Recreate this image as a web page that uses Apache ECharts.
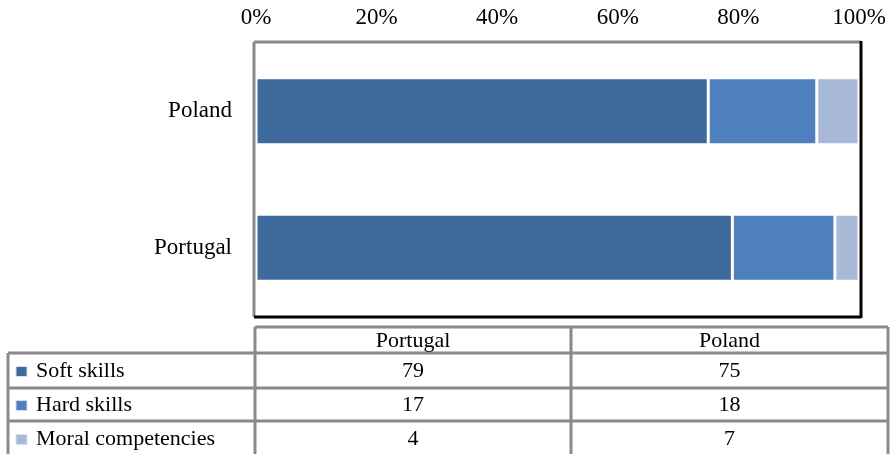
<!DOCTYPE html>
<html>
<head>
<meta charset="utf-8">
<script src="https://cdn.jsdelivr.net/npm/echarts@6/dist/echarts.min.js"></script>
<style>
html, body { margin: 0; padding: 0; background: #fff; }
#chart { width: 895px; height: 454px; }
</style>
</head>
<body>
<div id="chart"></div>
<script>
// table order: Portugal, Poland (axis draws first category at bottom)
var countries = ['Portugal', 'Poland']
var seriesNames = ['Soft skills', 'Hard skills', 'Moral competencies']
var softSkills = [79, 75]
var hardSkills = [17, 18]
var moralComp = [4, 7]
var colors = ['#3F6A9C', '#4D80BC', '#A9B9D8']

var seriesData = [softSkills, hardSkills, moralComp]
var font = '"Liberation Serif", "Times New Roman", serif'
var chart = echarts.init(document.querySelector('#chart'))

var gridLeft = 256, gridTop = 43, gridW = 603, gridH = 273

// data table underneath the plot
var lineColor = '#8a8a8a'
var colX = [8, 255, 571, 888]
var rowY = [327, 353, 388, 421, 456]
var graphics = []

function hline(x1, x2, y, color) {
    graphics.push({ type: 'line', shape: { x1: x1, y1: y, x2: x2, y2: y }, style: { stroke: color || lineColor, lineWidth: 3 } })
}
function vline(x, y1, y2, color) {
    graphics.push({ type: 'line', shape: { x1: x, y1: y1, x2: x, y2: y2 }, style: { stroke: color || lineColor, lineWidth: 3 } })
}
function text(str, x, y, align) {
    graphics.push({
        type: 'text', x: x, y: y,
        style: { text: str, font: '22px ' + font, fill: '#000', align: align || 'center', verticalAlign: 'middle' }
    })
}

// plot border: gray top/left, black bottom/right
hline(gridLeft - 2, gridLeft + gridW + 2, gridTop - 1)
vline(gridLeft - 2, gridTop - 1, gridTop + gridH + 1)
hline(gridLeft - 2, gridLeft + gridW + 2, gridTop + gridH + 1, '#000')
vline(gridLeft + gridW + 2, gridTop - 2, gridTop + gridH + 2, '#000')

hline(colX[1], colX[3], rowY[0])
for (var r = 1; r < rowY.length; r++) hline(colX[0], colX[3], rowY[r])
vline(colX[0], rowY[1], rowY[4])
for (var c = 1; c < colX.length; c++) vline(colX[c], rowY[0], rowY[4])

countries.forEach(function (name, i) {
    text(name, (colX[i + 1] + colX[i + 2]) / 2, (rowY[0] + rowY[1]) / 2 + 1)
})
seriesNames.forEach(function (name, s) {
    var cy = (rowY[s + 1] + rowY[s + 2]) / 2 + 1
    graphics.push({
        type: 'rect', shape: { x: 16, y: cy - 5, width: 11, height: 10 },
        style: { fill: colors[s], stroke: '#d8dde6', lineWidth: 1 }
    })
    text(name, 36, cy, 'left')
    seriesData[s].forEach(function (v, i) {
        text(String(v), (colX[i + 1] + colX[i + 2]) / 2, cy)
    })
})

var option = {
    animation: false,
    backgroundColor: '#fff',
    grid: { left: gridLeft, top: gridTop, width: gridW, height: gridH },
    xAxis: {
        type: 'value',
        position: 'top',
        min: 0, max: 100, interval: 20,
        axisLine: { show: false },
        axisTick: { show: false },
        splitLine: { show: false },
        axisLabel: {
            formatter: '{value}%',
            margin: 14,
            color: '#000',
            fontFamily: font,
            fontSize: 23
        }
    },
    yAxis: {
        type: 'category',
        data: countries,
        axisLine: { show: false },
        axisTick: { show: false },
        axisLabel: {
            margin: 24,
            color: '#000',
            fontFamily: font,
            fontSize: 23
        }
    },
    series: seriesNames.map(function (name, s) {
        return {
            name: name,
            type: 'bar',
            stack: 'total',
            barWidth: 67,
            data: seriesData[s],
            itemStyle: { color: colors[s], borderColor: '#fff', borderWidth: 1.5 }
        }
    }),
    graphic: { elements: graphics }
}

chart.setOption(option)
</script>
</body>
</html>
